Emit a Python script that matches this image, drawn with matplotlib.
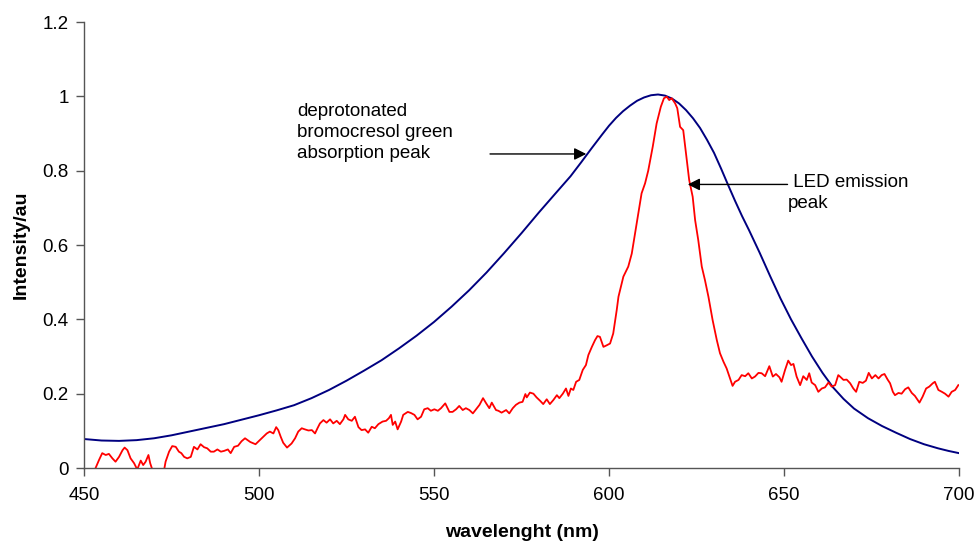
import matplotlib
matplotlib.use("Agg")
import matplotlib.pyplot as plt

plt.rcParams['font.family'] = ['Liberation Sans', 'DejaVu Sans']

# Absorption (blue) curve
abs_wl = [450, 455, 460, 465, 470, 475, 480, 485, 490, 495, 500, 505, 510, 515, 520, 525, 530,
          535, 540, 545, 550, 555, 560, 565, 570, 575, 580, 585, 589, 592, 595, 598, 600, 602,
          604, 606, 608, 610, 612, 614, 616, 618, 620, 622, 624, 626, 628, 630, 632, 634, 636,
          638, 640, 643, 646, 649, 652, 655, 658, 661, 664, 667, 670, 674, 678, 682, 686, 690,
          694, 697, 700]
abs_val = [0.078, 0.074, 0.073, 0.075, 0.080, 0.088, 0.098, 0.108, 0.118, 0.130, 0.142, 0.155,
           0.169, 0.188, 0.210, 0.235, 0.262, 0.290, 0.322, 0.356, 0.393, 0.434, 0.478, 0.526,
           0.578, 0.632, 0.688, 0.742, 0.785, 0.822, 0.860, 0.897, 0.921, 0.942, 0.960, 0.975,
           0.988, 0.997, 1.003, 1.005, 1.002, 0.994, 0.981, 0.963, 0.941, 0.915, 0.883, 0.848,
           0.806, 0.762, 0.719, 0.678, 0.640, 0.580, 0.517, 0.456, 0.400, 0.349, 0.300, 0.256,
           0.217, 0.186, 0.160, 0.134, 0.113, 0.095, 0.078, 0.064, 0.053, 0.046, 0.040]

# LED emission (red) curve
led_wl = [453.3, 454.3, 455.2, 456.2, 457.1, 458.1, 459.0, 460.0, 461.0, 461.6, 462.4, 463.3,
          464.3, 465.2, 466.2, 466.9, 467.6, 468.4, 468.9, 469.5, 470.5, 472.0, 472.9, 473.3,
          474.3, 475.2, 476.2, 477.1, 477.8, 478.6, 479.5, 480.5, 481.4, 482.4, 483.3, 484.3,
          485.2, 486.2, 487.1, 488.1, 489.1, 490.0, 491.1, 491.9, 492.9, 494.0, 495.0, 496.0,
          497.5, 499.0, 500.2, 501.2, 502.2, 503.1, 504.1, 504.9, 505.5, 506.2, 506.9, 508.0,
          509.3, 510.3, 511.2, 512.2, 513.1, 514.1, 515.1, 516.0, 516.7, 517.4, 518.4, 519.3,
          520.3, 521.2, 522.2, 523.1, 524.1, 524.6, 525.5, 526.5, 527.4, 528.4, 529.3, 530.3,
          531.2, 532.2, 533.1, 534.1, 535.3, 536.3, 537.1, 537.7, 538.2, 538.9, 539.6, 540.6,
          541.2, 542.5, 543.4, 544.4, 545.3, 546.3, 547.2, 548.2, 549.1, 550.1, 551.1, 552.0,
          553.2, 554.4, 555.3, 556.3, 557.2, 558.2, 559.1, 560.1, 561.1, 562.0, 563.0, 564.0,
          564.9, 565.8, 566.5, 567.7, 568.4, 569.3, 570.6, 571.5, 572.5, 573.4, 574.4, 575.3,
          576.1, 576.5, 577.4, 578.4, 579.3, 580.3, 581.2, 582.2, 583.1, 584.1, 585.1, 585.8,
          586.8, 587.7, 588.4, 589.1, 589.8, 590.6, 591.5, 592.5, 593.4, 594.1, 595.1, 596.0,
          596.7, 597.4, 598.4, 599.3, 600.3, 601.2, 602.2, 602.7, 604.1, 605.5, 606.5, 607.9,
          609.3, 610.3, 611.2, 612.5, 613.6, 614.8, 615.7, 616.5, 617.2, 617.9, 618.9, 619.5,
          620.3, 621.2, 622.0, 622.9, 623.9, 624.6, 625.5, 626.5, 627.4, 628.4, 629.6, 630.8,
          631.7, 632.7, 633.6, 634.4, 635.3, 636.0, 637.0, 637.9, 638.9, 639.8, 640.8, 641.7,
          642.7, 643.6, 644.6, 645.8, 646.8, 647.7, 648.7, 649.3, 650.3, 651.2, 652.0, 652.7,
          653.6, 654.6, 655.5, 656.5, 657.2, 657.9, 658.9, 659.8, 660.8, 661.7, 662.7, 663.6,
          664.6, 665.5, 666.0, 667.0, 667.9, 668.9, 669.8, 670.6, 671.5, 672.5, 673.4, 674.2,
          675.1, 676.1, 677.0, 677.9, 678.7, 679.6, 680.3, 681.1, 681.7, 682.7, 683.6, 684.6,
          685.5, 686.5, 687.4, 688.7, 689.6, 690.6, 691.5, 692.5, 693.1, 694.1, 695.1, 696.0,
          697.0, 697.9, 698.9, 699.8]
led_val = [0.000, 0.022, 0.040, 0.035, 0.038, 0.026, 0.017, 0.030, 0.048, 0.055, 0.048, 0.026,
           0.013, -0.004, 0.020, 0.008, 0.017, 0.035, 0.013, -0.004, -0.01, -0.01, -0.004, 0.017,
           0.044, 0.059, 0.057, 0.044, 0.040, 0.030, 0.026, 0.030, 0.057, 0.050, 0.064, 0.056,
           0.053, 0.044, 0.044, 0.050, 0.044, 0.046, 0.050, 0.040, 0.057, 0.060, 0.072, 0.080,
           0.070, 0.064, 0.075, 0.084, 0.093, 0.098, 0.093, 0.110, 0.102, 0.084, 0.068, 0.055,
           0.066, 0.080, 0.098, 0.107, 0.104, 0.101, 0.102, 0.093, 0.107, 0.120, 0.129, 0.122,
           0.131, 0.120, 0.127, 0.118, 0.131, 0.143, 0.131, 0.127, 0.138, 0.110, 0.102, 0.104,
           0.095, 0.111, 0.107, 0.118, 0.125, 0.127, 0.134, 0.143, 0.116, 0.125, 0.104, 0.125,
           0.143, 0.151, 0.148, 0.143, 0.131, 0.138, 0.158, 0.161, 0.154, 0.158, 0.154, 0.161,
           0.174, 0.151, 0.151, 0.158, 0.167, 0.156, 0.161, 0.156, 0.147, 0.158, 0.170, 0.188,
           0.174, 0.161, 0.176, 0.156, 0.154, 0.149, 0.156, 0.147, 0.161, 0.170, 0.176, 0.178,
           0.199, 0.190, 0.203, 0.200, 0.190, 0.181, 0.172, 0.185, 0.172, 0.183, 0.196, 0.188,
           0.200, 0.214, 0.194, 0.214, 0.210, 0.232, 0.237, 0.264, 0.277, 0.304, 0.326, 0.344,
           0.355, 0.353, 0.326, 0.330, 0.335, 0.362, 0.425, 0.461, 0.515, 0.542, 0.577, 0.658,
           0.739, 0.766, 0.800, 0.865, 0.927, 0.972, 0.995, 0.999, 0.990, 0.995, 0.981, 0.968,
           0.918, 0.909, 0.847, 0.775, 0.730, 0.667, 0.613, 0.542, 0.506, 0.461, 0.398, 0.344,
           0.309, 0.286, 0.268, 0.246, 0.221, 0.232, 0.237, 0.250, 0.247, 0.255, 0.241, 0.246,
           0.256, 0.255, 0.247, 0.274, 0.246, 0.253, 0.244, 0.232, 0.264, 0.289, 0.277, 0.280,
           0.246, 0.223, 0.247, 0.237, 0.255, 0.230, 0.223, 0.205, 0.214, 0.217, 0.230, 0.219,
           0.223, 0.250, 0.246, 0.237, 0.238, 0.228, 0.214, 0.205, 0.232, 0.229, 0.235, 0.256,
           0.241, 0.250, 0.241, 0.250, 0.253, 0.238, 0.228, 0.205, 0.196, 0.202, 0.200, 0.212,
           0.217, 0.202, 0.194, 0.176, 0.192, 0.214, 0.219, 0.228, 0.232, 0.210, 0.205, 0.200,
           0.192, 0.205, 0.210, 0.223]

x_ticks = [450, 500, 550, 600, 650, 700]
y_ticks = [0, 0.2, 0.4, 0.6, 0.8, 1, 1.2]
y_tick_labels = ['0', '0.2', '0.4', '0.6', '0.8', '1', '1.2']

fig = plt.figure(figsize=(9.76, 5.41), dpi=100)
ax = fig.add_axes([0.0861, 0.1349, 0.8965, 0.8244])

ax.plot(abs_wl, abs_val, color='#000080', lw=1.4)
ax.plot(led_wl, led_val, color='#ff0000', lw=1.3)

ax.set_xlim(450, 700)
ax.set_ylim(0, 1.2)
ax.set_xticks(x_ticks)
ax.set_yticks(y_ticks)
ax.set_yticklabels(y_tick_labels)
ax.tick_params(axis='both', direction='out', length=6, width=1, color='#555555',
               labelsize=13.5, pad=5)
ax.tick_params(axis='x', pad=8)
for s in ['top', 'right']:
    ax.spines[s].set_visible(False)
for s in ['left', 'bottom']:
    ax.spines[s].set_color('#555555')
    ax.spines[s].set_linewidth(1)

ax.set_xlabel('wavelenght (nm)', fontsize=14, fontweight='bold', labelpad=14)
ax.set_ylabel('Intensity/au', fontsize=14, fontweight='bold', labelpad=9)

ax.text(510.9, 0.982, 'deprotonated\nbromocresol green\nabsorption peak', fontsize=13.5,
        ha='left', va='top', linespacing=1.3)
ax.annotate('', xy=(593.5, 0.845), xytext=(566, 0.845),
            arrowprops=dict(arrowstyle='-|>', color='black', lw=1,
                            mutation_scale=18, shrinkA=0, shrinkB=0))
ax.text(651.2, 0.79, ' LED emission\npeak', fontsize=13.5, ha='left', va='top', linespacing=1.3)
ax.annotate('', xy=(622.5, 0.763), xytext=(651, 0.763),
            arrowprops=dict(arrowstyle='-|>', color='black', lw=1,
                            mutation_scale=18, shrinkA=0, shrinkB=0))

fig.savefig('out.png', dpi=100)
